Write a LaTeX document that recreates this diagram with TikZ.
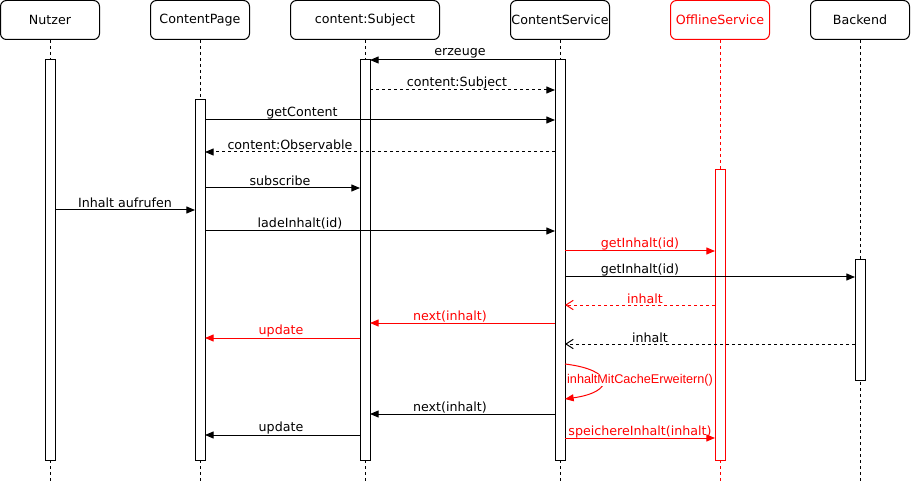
\documentclass[tikz,border=0pt]{standalone}
\usepackage{fontspec}
\setmainfont{DejaVu Sans}
\newfontfamily\arialfont{Liberation Sans}
\usetikzlibrary{arrows.meta}
\definecolor{rot}{HTML}{FF0000}

\begin{document}
\begin{tikzpicture}[x=0.75pt, y=-0.75pt, line width=0.75pt,
  font=\fontsize{9.5}{11}\selectfont,
  kopf/.style={draw, rounded corners=4.5pt, minimum width=74.25pt, minimum height=29.25pt, inner sep=0pt},
  balken/.style={draw, fill=white, minimum width=7.5pt, inner sep=0pt, outer sep=0pt},
  leben/.style={dash pattern=on 2.25pt off 2.25pt},
  ruf/.style={-{Triangle[length=6.5pt,width=5.25pt]}},
  antwort/.style={dash pattern=on 2.25pt off 2.25pt, -{Triangle[length=6.5pt,width=5.25pt]}},
  rueck/.style={dash pattern=on 2.25pt off 2.25pt, -{Straight Barb[length=5.5pt,width=7pt]}},
  lbl/.style={inner sep=0.5pt}]
\useasboundingbox (0,0) rectangle (911,481);

% Kopfzeile
\node (nutzer) [kopf] at (50,20) {Nutzer};
\node (page) [kopf] at (200,20) {ContentPage};
\node (subj) [kopf, minimum width=111.75pt] at (365,20) {content:Subject};
\node (serv) [kopf] at (560,20) {ContentService};
\node (offl) [kopf, draw=rot, text=rot] at (720,20) {OfflineService};
\node (back) [kopf] at (860,20) {Backend};

% Lebenslinien
\draw [leben] (nutzer) -- (nutzer |- 0,481);
\draw [leben] (page) -- (page |- 0,481);
\draw [leben] (subj) -- (subj |- 0,481);
\draw [leben] (serv) -- (serv |- 0,481);
\draw [leben, rot] (offl) -- (offl |- 0,481);
\draw [leben] (back) -- (back |- 0,481);

% Aktivierungen
\node (bnutzer) [balken, minimum height=300pt] at (50,260) {};
\node (bpage) [balken, minimum height=270pt] at (200,280) {};
\node (bsubj) [balken, minimum height=300pt] at (365,260) {};
\node (bserv) [balken, minimum height=300pt] at (560,260) {};
\node (boffl) [balken, draw=rot, minimum height=217.5pt] at (720,315) {};
\node (bback) [balken, minimum height=90pt] at (860,320) {};

% Nachrichten
\draw [ruf] (bserv.west |- 0,60) -- (bsubj.east |- 0,60);
\node (l1) [lbl] at (460,53) {erzeuge};
\draw [antwort] (bsubj.east |- 0,90) -- (bserv.west |- 0,90);
\node (l2) [lbl] at (457,83) {content:Subject};
\draw [ruf] (bpage.east |- 0,120) -- (bserv.west |- 0,120);
\node (l3) [lbl] at (302,113) {getContent};
\draw [antwort] (bserv.west |- 0,152) -- (bpage.east |- 0,152);
\node (l4) [lbl] at (290,145) {content:Observable};
\draw [ruf] (bpage.east |- 0,188) -- (bsubj.west |- 0,188);
\node (l5) [lbl] at (280,181) {subscribe};
\draw [ruf] (bnutzer.east |- 0,210) -- (bpage.west |- 0,210);
\node (l6) [lbl] at (125,203) {Inhalt aufrufen};
\draw [ruf] (bpage.east |- 0,231) -- (bserv.west |- 0,231);
\node (l7) [lbl] at (300,224) {ladeInhalt(id)};
\draw [ruf, rot] (bserv.east |- 0,251) -- (boffl.west |- 0,251);
\node (l8) [lbl, rot] at (640,244) {getInhalt(id)};
\draw [ruf] (bserv.east |- 0,277) -- (bback.west |- 0,277);
\node (l9) [lbl] at (640,270) {getInhalt(id)};
\draw [rueck, rot] (boffl.west |- 0,305) -- (bserv.east |- 0,305);
\node (l10) [lbl, rot] at (645,299) {inhalt};
\draw [ruf, rot] (bserv.west |- 0,323) -- (bsubj.east |- 0,323);
\node (l11) [lbl, rot] at (450,317) {next(inhalt)};
\draw [ruf, rot] (bsubj.west |- 0,338) -- (bpage.east |- 0,338);
\node (l12) [lbl, rot] at (281,331) {update};
\draw [rueck] (bback.west |- 0,344) -- (bserv.east |- 0,344);
\node (l13) [lbl] at (650,338) {inhalt};
\draw [ruf, rot] (bserv.east |- 0,364) .. controls (615,370) and (615,392) .. (bserv.east |- 0,399);
\node (l14) [rot, fill=white, inner sep=0pt, font=\arialfont\fontsize{9.5}{11}\selectfont] at (640,380) {inhaltMitCacheErweitern()};
\draw [ruf] (bserv.west |- 0,414) -- (bsubj.east |- 0,414);
\node (l15) [lbl] at (450,408) {next(inhalt)};
\draw [ruf] (bsubj.west |- 0,435) -- (bpage.east |- 0,435);
\node (l16) [lbl] at (281,428) {update};
\draw [ruf, rot] (bserv.east |- 0,438) -- (boffl.west |- 0,438);
\node (l17) [lbl, rot] at (640,432) {speichereInhalt(inhalt)};
\end{tikzpicture}
\end{document}
